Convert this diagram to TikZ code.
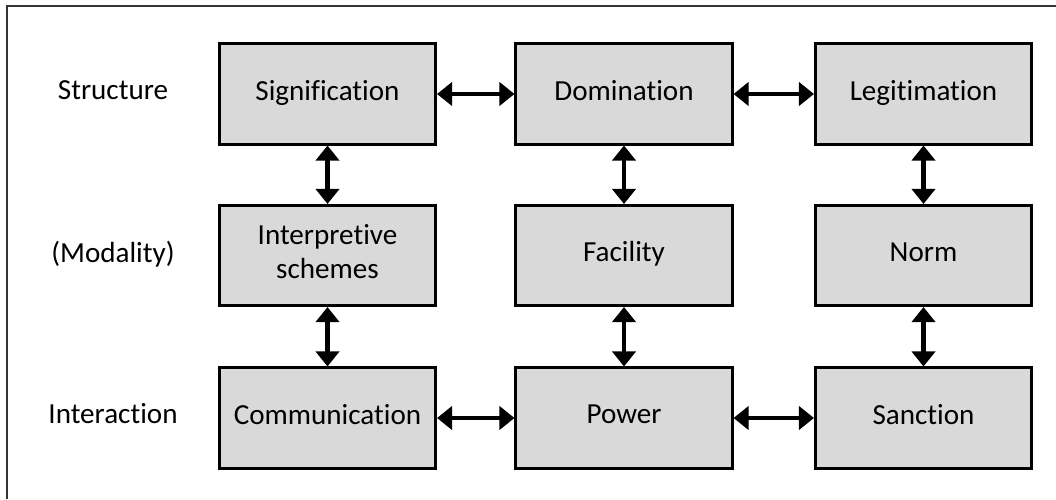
\documentclass[tikz,border=0pt]{standalone}
\usepackage{fontspec}
\setmainfont{Carlito}[Ligatures={NoCommon,NoContextual}]
\usetikzlibrary{arrows.meta}

\newcommand{\boxstrut}{\rule[-5.2pt]{0pt}{18.6pt}}

\tikzset{
	block/.style={draw=black, fill=black!15, line width=0.075cm, minimum width=5.4cm, minimum height=2.5cm, align=center, font=\fontsize{20.7}{24.2}\selectfont, execute at begin node=\boxstrut},
	rowlabel/.style={font=\fontsize{20.7}{24.2}\selectfont, execute at begin node=\boxstrut},
	link/.style={line width=0.105cm, {Triangle[length=0.375cm,width=0.575cm]}-{Triangle[length=0.375cm,width=0.575cm]}}
}

\begin{document}
\begin{tikzpicture}[x=0.025cm, y=-0.025cm]
		%%%%% START %%%%%
		
		\useasboundingbox (0, 0) rectangle (1056, 499);
		\draw[line width=0.05cm, color=black!80] (7, 499) -- (7, 6) -- (1056, 6);
		
		\node[rowlabel] (structure) at (113, 94) {Structure};
		\node[rowlabel] (modality) at (113, 256) {(Modality)};
		\node[rowlabel] (interaction) at (113, 417) {Interaction};
		
		\node[block] (signification) at (327.5, 94) {Signification};
		\node[block] (domination) at (624, 94) {Domination};
		\node[block] (legitimation) at (923.5, 94) {Legitimation};
		
		\node[block] (schemes) at (327.5, 255.5) {Interpretive\\schemes\boxstrut};
		\node[block] (facility) at (624, 255.5) {Facility};
		\node[block] (norm) at (923.5, 255.5) {Norm};
		
		\node[block] (communication) at (327.5, 418) {Communication};
		\node[block] (power) at (624, 418) {Power};
		\node[block] (sanction) at (923.5, 418) {Sanction};
		
		\draw[link] (signification) -- (domination);
		\draw[link] (domination) -- (legitimation);
		\draw[link] (communication) -- (power);
		\draw[link] (power) -- (sanction);
		
		\draw[link] (signification) -- (schemes);
		\draw[link] (schemes) -- (communication);
		\draw[link] (domination) -- (facility);
		\draw[link] (facility) -- (power);
		\draw[link] (legitimation) -- (norm);
		\draw[link] (norm) -- (sanction);
		
		%%%%% END %%%%%
	\end{tikzpicture}
\end{document}
